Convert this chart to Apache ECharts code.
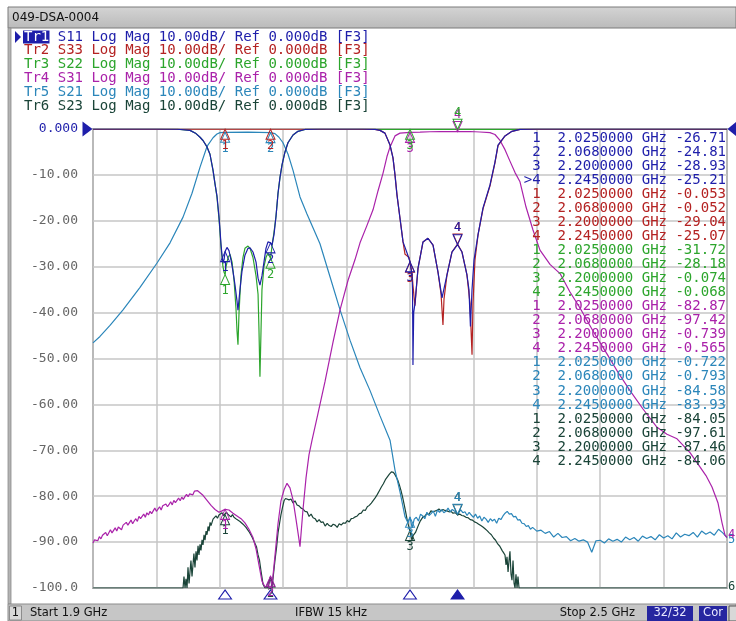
<!DOCTYPE html>
<html><head><meta charset="utf-8">
<script src="https://cdn.jsdelivr.net/npm/echarts@6/dist/echarts.min.js"></script>
<style>html,body{margin:0;padding:0;background:#fff}#c{width:736px;height:621px}</style>
</head><body><div id="c"></div><script>
// ---------- data ----------
const traceNames = ['Tr1','Tr2','Tr3','Tr4','Tr5','Tr6'];
const sParams = ['S11','S33','S22','S31','S21','S23'];
const yTickLabels = ['0.000','-10.00','-20.00','-30.00','-40.00','-50.00','-60.00','-70.00','-80.00','-90.00','-100.0'];
const freqMarkers = [2.025, 2.068, 2.2, 2.245];
const mkS11 = [-26.71, -24.81, -28.93, -25.21];
const mkS33 = [-0.053, -0.052, -29.04, -25.07];
const mkS22 = [-31.72, -28.18, -0.074, -0.068];
const mkS31 = [-82.87, -97.42, -0.739, -0.565];
const mkS21 = [-0.722, -0.793, -84.58, -83.93];
const mkS23 = [-84.05, -97.61, -87.46, -84.06];

const s11Data = [[1.900,0],[1.960,0],[1.980,-0.05],[1.9918,-0.3],[1.9975,-1.0],[2.0013,-1.8],[2.0041,-2.5],[2.0079,-3.9],[2.0107,-5.5],[2.0136,-9.0],[2.0155,-12.0],[2.0173,-14.5],[2.0192,-19.0],[2.0202,-22.0],[2.0211,-25.0],[2.0221,-27.5],[2.0230,-29.0],[2.0240,-28.5],[2.0250,-26.71],[2.0268,-25.8],[2.0287,-26.5],[2.0306,-28.5],[2.0325,-31.0],[2.0344,-34.0],[2.0363,-37.5],[2.0372,-39.5],[2.0391,-35.0],[2.0410,-31.0],[2.0438,-27.5],[2.0467,-26.0],[2.0486,-25.9],[2.0514,-26.8],[2.0543,-29.0],[2.0562,-32.5],[2.0580,-34.0],[2.0599,-32.0],[2.0618,-29.0],[2.0637,-26.0],[2.0656,-24.6],[2.0680,-24.81],[2.0694,-25.3],[2.0713,-23.0],[2.0732,-19.0],[2.0751,-14.0],[2.0770,-10.5],[2.0789,-7.8],[2.0817,-5.0],[2.0845,-3.0],[2.0893,-1.3],[2.0940,-0.5],[2.1006,-0.1],[2.1150,0],[2.1550,0],[2.1669,-0.1],[2.1716,-0.3],[2.1763,-0.9],[2.1811,-3.5],[2.1839,-6.3],[2.1858,-10.0],[2.1877,-14.4],[2.1905,-19.4],[2.1934,-24.6],[2.1972,-27.0],[2.2000,-28.93],[2.2019,-31.8],[2.2024,-35.0],[2.2028,-51.4],[2.2035,-40.0],[2.2047,-38.0],[2.2066,-33.0],[2.2076,-30.3],[2.2095,-28.0],[2.2123,-24.6],[2.2170,-23.8],[2.2218,-25.3],[2.2265,-31.2],[2.2303,-36.8],[2.2350,-31.8],[2.2397,-26.8],[2.2450,-25.21],[2.2492,-26.8],[2.2539,-31.8],[2.2558,-35.0],[2.2572,-43.0],[2.2587,-35.0],[2.2606,-28.5],[2.2644,-23.0],[2.2691,-17.2],[2.2757,-12.2],[2.2804,-7.2],[2.2833,-3.5],[2.2899,-1.5],[2.2965,-0.5],[2.3041,-0.1],[2.3200,0],[2.5000,0]];

const s33Data = [[1.900,-0.05],[2.150,-0.05],[2.1669,-0.1],[2.1716,-0.3],[2.1763,-0.9],[2.1811,-3.5],[2.1839,-6.3],[2.1858,-10.0],[2.1877,-14.4],[2.1905,-19.4],[2.1934,-24.6],[2.1953,-27.3],[2.1972,-27.6],[2.1991,-28.0],[2.2000,-29.04],[2.2019,-31.5],[2.2028,-34.0],[2.2038,-36.5],[2.2047,-38.5],[2.2066,-33.0],[2.2076,-30.3],[2.2095,-28.0],[2.2123,-24.6],[2.2170,-23.8],[2.2218,-25.3],[2.2265,-31.2],[2.2294,-36.0],[2.2312,-42.7],[2.2322,-37.0],[2.2350,-31.8],[2.2397,-26.8],[2.2450,-25.07],[2.2492,-26.8],[2.2539,-31.8],[2.2568,-38.0],[2.2587,-49.2],[2.2596,-38.0],[2.2615,-28.5],[2.2644,-23.0],[2.2691,-17.4],[2.2757,-12.4],[2.2804,-7.4],[2.2833,-3.6],[2.2899,-1.5],[2.2965,-0.5],[2.3041,-0.1],[2.3200,-0.05],[2.5000,-0.05]];

const s22Data = [[1.900,-0.05],[1.980,-0.05],[1.9918,-0.3],[1.9975,-1.0],[2.0013,-1.8],[2.0041,-2.5],[2.0079,-3.9],[2.0107,-5.5],[2.0136,-9.0],[2.0155,-12.0],[2.0173,-14.8],[2.0192,-19.5],[2.0202,-22.5],[2.0211,-25.5],[2.0221,-28.0],[2.0230,-30.0],[2.0240,-31.2],[2.0250,-31.72],[2.0259,-30.0],[2.0278,-28.0],[2.0297,-27.3],[2.0316,-29.0],[2.0335,-33.0],[2.0353,-39.0],[2.0363,-44.0],[2.0372,-47.0],[2.0382,-40.0],[2.0400,-32.0],[2.0419,-28.0],[2.0438,-26.0],[2.0467,-25.5],[2.0486,-26.0],[2.0514,-28.0],[2.0543,-32.0],[2.0562,-36.0],[2.0571,-44.0],[2.0580,-54.0],[2.0590,-44.0],[2.0599,-35.0],[2.0618,-30.0],[2.0637,-28.0],[2.0656,-27.0],[2.0680,-28.18],[2.0694,-25.5],[2.0713,-22.5],[2.0732,-19.0],[2.0751,-14.0],[2.0770,-10.5],[2.0789,-7.8],[2.0817,-5.0],[2.0845,-3.0],[2.0893,-1.3],[2.0940,-0.5],[2.1006,-0.1],[2.1200,-0.07],[2.5000,-0.07]];

const s31Data = [[1.9000,-90.2],[1.9015,-89.5],[1.9030,-89.1],[1.9045,-89.7],[1.9060,-88.8],[1.9075,-89.3],[1.9090,-88.5],[1.9105,-88.9],[1.9120,-87.9],[1.9135,-88.6],[1.9150,-88.3],[1.9165,-87.3],[1.9180,-88.0],[1.9195,-87.7],[1.9210,-86.9],[1.9225,-87.6],[1.9240,-86.7],[1.9255,-86.5],[1.9270,-87.3],[1.9285,-86.3],[1.9300,-86.6],[1.9315,-85.7],[1.9330,-86.3],[1.9345,-85.9],[1.9360,-85.2],[1.9375,-86.0],[1.9390,-85.4],[1.9405,-84.9],[1.9420,-85.5],[1.9435,-84.4],[1.9450,-84.9],[1.9465,-84.7],[1.9480,-83.9],[1.9495,-84.6],[1.9510,-83.6],[1.9525,-84.1],[1.9540,-83.3],[1.9555,-83.8],[1.9570,-83.5],[1.9585,-82.6],[1.9600,-83.3],[1.9615,-82.8],[1.9630,-82.3],[1.9645,-83.0],[1.9660,-82.1],[1.9675,-82.5],[1.9690,-81.7],[1.9705,-82.3],[1.9720,-81.8],[1.9735,-81.2],[1.9750,-81.9],[1.9765,-80.9],[1.9780,-81.4],[1.9795,-81.0],[1.9810,-80.4],[1.9825,-81.0],[1.9840,-80.2],[1.9855,-80.7],[1.9870,-80.1],[1.9885,-79.6],[1.9900,-80.1],[1.9915,-79.5],[1.9930,-79.3],[1.9945,-79.7],[1.9960,-78.9],[1.9975,-79.2],[1.9990,-78.8],[2.0005,-79.1],[2.0041,-79.8],[2.0079,-80.9],[2.0117,-82.0],[2.0155,-82.9],[2.0192,-83.5],[2.0221,-83.2],[2.0250,-82.87],[2.0287,-83.0],[2.0325,-83.7],[2.0363,-84.3],[2.0401,-84.9],[2.0438,-85.8],[2.0476,-87.2],[2.0514,-89.0],[2.0543,-91.5],[2.0571,-95.0],[2.0599,-98.5],[2.0628,-99.8],[2.0656,-99.6],[2.0680,-97.42],[2.0694,-99.5],[2.0722,-93.0],[2.0751,-86.0],[2.0779,-81.0],[2.0808,-78.6],[2.0836,-77.2],[2.0864,-78.2],[2.0893,-80.8],[2.0921,-85.0],[2.0950,-89.5],[2.0959,-91.0],[2.0987,-83.0],[2.1016,-76.0],[2.1044,-71.0],[2.1073,-67.8],[2.1129,-62.0],[2.1196,-55.0],[2.1271,-46.5],[2.1338,-39.4],[2.1413,-33.0],[2.1479,-28.5],[2.1527,-24.8],[2.1593,-21.0],[2.1650,-17.6],[2.1697,-13.5],[2.1745,-9.6],[2.1782,-6.0],[2.1811,-3.9],[2.1858,-1.5],[2.1905,-0.9],[2.2000,-0.739],[2.2095,-0.7],[2.2189,-0.6],[2.2284,-0.55],[2.2450,-0.565],[2.2568,-0.55],[2.2662,-0.65],[2.2757,-0.8],[2.2804,-1.2],[2.2852,-2.5],[2.2899,-4.5],[2.2946,-7.0],[2.2994,-9.5],[2.3041,-11.5],[2.3098,-17.0],[2.3164,-22.0],[2.3230,-26.4],[2.3325,-29.5],[2.3420,-31.5],[2.3514,-35.5],[2.3609,-39.0],[2.3732,-44.0],[2.3864,-49.0],[2.3968,-53.0],[2.4082,-57.0],[2.4205,-61.0],[2.4338,-65.0],[2.4432,-66.5],[2.4527,-67.5],[2.4650,-70.5],[2.4744,-73.6],[2.4801,-75.5],[2.4858,-78.0],[2.4915,-81.5],[2.4953,-85.8],[2.4981,-88.5],[2.5000,-89.0]];

const s21Data = [[1.900,-46.6],[1.9066,-45.2],[1.9161,-42.8],[1.9284,-39.4],[1.9445,-34.5],[1.9606,-29.2],[1.9729,-24.8],[1.9852,-19.2],[1.9937,-14.0],[2.0013,-8.3],[2.0079,-3.8],[2.0136,-1.9],[2.0173,-1.1],[2.0202,-0.8],[2.0250,-0.722],[2.0467,-0.7],[2.0680,-0.793],[2.0722,-1.0],[2.0760,-1.8],[2.0798,-3.0],[2.0846,-5.5],[2.0893,-9.0],[2.0959,-14.8],[2.1025,-18.5],[2.1082,-21.5],[2.1148,-25.0],[2.1243,-32.2],[2.1338,-39.4],[2.1432,-46.0],[2.1527,-52.0],[2.1622,-57.0],[2.1716,-62.5],[2.1811,-67.8],[2.1858,-74.3],[2.1905,-79.0],[2.1953,-84.5],[2.1981,-85.8],[2.2000,-84.58],[2.202,-86.9],[2.204,-85.0],[2.206,-84.6],[2.208,-85.4],[2.210,-83.9],[2.212,-84.3],[2.214,-84.9],[2.216,-83.5],[2.218,-84.2],[2.220,-83.8],[2.222,-83.2],[2.224,-84.4],[2.226,-83.0],[2.228,-83.5],[2.230,-82.9],[2.232,-83.6],[2.234,-83.3],[2.236,-82.6],[2.238,-83.4],[2.240,-82.9],[2.242,-83.2],[2.245,-83.93],[2.248,-83.0],[2.250,-83.6],[2.252,-83.4],[2.254,-84.2],[2.256,-83.5],[2.258,-84.1],[2.260,-84.6],[2.262,-83.9],[2.264,-84.8],[2.266,-84.3],[2.268,-85.4],[2.270,-84.6],[2.272,-85.0],[2.274,-85.7],[2.276,-84.9],[2.278,-85.4],[2.280,-85.0],[2.282,-85.9],[2.284,-84.8],[2.286,-85.1],[2.288,-84.3],[2.290,-83.7],[2.292,-83.3],[2.294,-83.9],[2.296,-83.8],[2.298,-84.5],[2.300,-84.4],[2.302,-85.2],[2.304,-85.1],[2.306,-85.9],[2.308,-86.0],[2.310,-86.6],[2.312,-86.4],[2.314,-87.2],[2.316,-86.8],[2.320,-87.6],[2.324,-87.4],[2.328,-88.1],[2.332,-87.7],[2.336,-88.9],[2.340,-88.1],[2.344,-89.0],[2.348,-88.8],[2.352,-89.7],[2.356,-89.2],[2.360,-89.8],[2.364,-89.5],[2.368,-90.0],[2.372,-92.2],[2.376,-89.7],[2.380,-89.6],[2.384,-90.2],[2.388,-89.3],[2.392,-89.8],[2.396,-89.4],[2.400,-90.0],[2.404,-88.9],[2.408,-89.5],[2.412,-89.0],[2.416,-89.8],[2.420,-88.7],[2.424,-89.2],[2.428,-88.8],[2.432,-89.5],[2.436,-88.4],[2.440,-89.1],[2.444,-88.6],[2.448,-89.3],[2.452,-88.0],[2.456,-88.9],[2.460,-88.3],[2.464,-88.6],[2.468,-87.9],[2.472,-88.9],[2.476,-87.6],[2.480,-88.3],[2.484,-87.8],[2.488,-88.5],[2.492,-87.2],[2.496,-88.0],[2.500,-89.0]];

const s23Data = [[1.900,-100],[1.9852,-100],[1.9861,-97.5],[1.9871,-100],[1.9880,-98.0],[1.9890,-100],[1.9899,-95.5],[1.9909,-99.0],[1.9918,-96.5],[1.9927,-94.0],[1.9937,-97.5],[1.9946,-95.0],[1.9955,-92.5],[1.9965,-95.5],[1.9975,-92.0],[1.9984,-94.0],[1.9994,-90.8],[2.0003,-92.8],[2.0013,-90.5],[2.0022,-91.8],[2.0032,-89.5],[2.0041,-90.6],[2.0051,-88.4],[2.0060,-89.6],[2.0070,-87.6],[2.0079,-88.4],[2.0089,-86.6],[2.0098,-87.6],[2.0108,-85.7],[2.0117,-86.4],[2.0136,-85.0],[2.0150,-85.4],[2.0164,-84.3],[2.0178,-84.8],[2.0192,-84.1],[2.0206,-84.3],[2.0221,-83.6],[2.0235,-84.2],[2.0250,-84.05],[2.0264,-83.5],[2.0278,-84.0],[2.0292,-83.8],[2.0306,-84.5],[2.0320,-84.0],[2.0334,-84.6],[2.0349,-84.5],[2.0363,-85.1],[2.0377,-84.9],[2.0391,-85.5],[2.0405,-85.4],[2.0420,-86.1],[2.0434,-86.0],[2.0448,-86.8],[2.0462,-86.9],[2.0476,-87.7],[2.0490,-88.0],[2.0505,-88.9],[2.0519,-89.2],[2.0533,-90.3],[2.0547,-91.0],[2.0562,-92.8],[2.0576,-94.0],[2.0590,-96.3],[2.0600,-97.8],[2.0609,-99.2],[2.0628,-100],[2.0656,-100],[2.0680,-97.61],[2.0694,-100],[2.0708,-97.0],[2.0722,-94.0],[2.0737,-91.2],[2.0751,-88.0],[2.0765,-86.0],[2.0779,-84.0],[2.0793,-82.5],[2.0808,-81.0],[2.0822,-80.5],[2.0836,-80.2],[2.0855,-80.8],[2.0874,-80.6],[2.0893,-81.5],[2.0912,-81.0],[2.0931,-81.9],[2.0950,-82.1],[2.0969,-82.6],[2.0988,-82.8],[2.1007,-83.3],[2.1026,-83.4],[2.1045,-84.4],[2.1064,-83.9],[2.1083,-84.7],[2.1102,-84.9],[2.1121,-85.6],[2.1140,-85.1],[2.1159,-85.7],[2.1178,-85.6],[2.1197,-86.5],[2.1216,-85.9],[2.1235,-86.4],[2.1254,-86.6],[2.1273,-86.1],[2.1292,-86.3],[2.1311,-86.8],[2.1330,-86.0],[2.1349,-86.3],[2.1368,-85.8],[2.1387,-85.9],[2.1406,-85.3],[2.1425,-85.6],[2.1444,-84.9],[2.1463,-84.8],[2.1482,-84.5],[2.1501,-84.3],[2.1520,-83.8],[2.1539,-83.7],[2.1558,-83.0],[2.1577,-83.1],[2.1596,-82.3],[2.1615,-82.0],[2.1634,-81.5],[2.1653,-80.9],[2.1672,-80.3],[2.1691,-79.6],[2.1710,-78.8],[2.1729,-78.0],[2.1748,-77.3],[2.1767,-76.4],[2.1786,-75.8],[2.1805,-75.2],[2.1824,-74.7],[2.1843,-74.8],[2.1858,-75.3],[2.1872,-75.9],[2.1886,-76.6],[2.1900,-77.6],[2.1915,-78.8],[2.1929,-80.1],[2.1943,-81.6],[2.1958,-83.3],[2.1972,-85.0],[2.1986,-86.4],[2.2000,-87.46],[2.2010,-88.8],[2.2019,-89.6],[2.2029,-88.6],[2.2038,-88.9],[2.2052,-87.9],[2.2066,-87.6],[2.2080,-86.3],[2.2095,-85.5],[2.2109,-85.3],[2.2123,-84.5],[2.2142,-84.3],[2.2160,-83.8],[2.2179,-84.0],[2.2198,-83.2],[2.2218,-83.4],[2.2236,-83.0],[2.2255,-83.1],[2.2274,-82.8],[2.2293,-83.2],[2.2312,-82.9],[2.2331,-83.1],[2.2350,-83.2],[2.2369,-83.4],[2.2388,-83.3],[2.2407,-83.7],[2.2430,-83.6],[2.2450,-84.06],[2.2470,-83.9],[2.2490,-84.2],[2.2510,-84.3],[2.2530,-84.6],[2.2550,-84.7],[2.2570,-85.1],[2.2590,-85.2],[2.2610,-85.6],[2.2630,-85.8],[2.2650,-86.1],[2.2670,-86.4],[2.2690,-86.7],[2.2710,-87.1],[2.2730,-87.5],[2.2750,-88.0],[2.2770,-88.4],[2.2790,-89.1],[2.2810,-89.6],[2.2830,-90.4],[2.2850,-90.9],[2.2871,-91.8],[2.2885,-92.3],[2.2899,-92.8],[2.2909,-95.0],[2.2918,-93.2],[2.2928,-96.5],[2.2937,-94.0],[2.2946,-92.0],[2.2956,-97.0],[2.2965,-98.3],[2.2975,-94.0],[2.2985,-99.0],[2.2994,-100],[2.3003,-97.0],[2.3013,-100],[2.3022,-97.5],[2.3032,-100],[2.5000,-100]];

// ---------- styles ----------
const traceColors = ['#1e1eaa','#b42222','#2ca52c','#aa22aa','#2b86ba','#1a4438'];
const MONO = "'DejaVu Sans Mono', monospace";
const SANS = "'DejaVu Sans', sans-serif";
const triUp = 'path://M5,0L10,10L0,10Z';
const triDown = 'path://M0,0L10,0L5,10Z';
const triRight = 'path://M0,0L10,5L0,10Z';
const triLeft = 'path://M10,0L0,5L10,10Z';

const traceData = [s11Data, s33Data, s22Data, s31Data, s21Data, s23Data];
const traceMarkers = [mkS11, mkS33, mkS22, mkS31, mkS21, mkS23];

const series = [];
traceNames.forEach((tn, k) => {
  const color = traceColors[k];
  const mp = freqMarkers.map((f, i) => ({
    coord: [f, traceMarkers[k][i]],
    symbol: i === 3 ? triDown : triUp,
    symbolSize: [9, 10],
    symbolOffset: i === 3 ? [0, -5] : [0, 5],
    itemStyle: {color: 'rgba(255,255,255,0)', borderColor: color, borderWidth: 1},
    label: {show: true, position: i === 3 ? 'top' : 'bottom', distance: 0, formatter: String(i + 1),
            color: color, fontSize: 12, fontFamily: MONO}
  }));
  if (k === 0) {
    freqMarkers.forEach((f, i) => mp.push({
      coord: [f, -100], symbol: triUp, symbolSize: [13, 9], symbolOffset: [0, 6.5],
      itemStyle: {color: i === 3 ? color : '#ffffff', borderColor: color, borderWidth: 1},
      label: {show: false}
    }));
    mp.push({coord: [1.9, 0], symbol: triRight, symbolSize: [10, 15], symbolOffset: [-5.5, 0],
             itemStyle: {color: color, borderWidth: 0}, label: {show: false}});
    mp.push({coord: [2.5, 0], symbol: triLeft, symbolSize: [9, 15], symbolOffset: [5, 0],
             itemStyle: {color: color, borderWidth: 0}, label: {show: false}});
  }
  const s = {
    type: 'line', name: tn, data: traceData[k], xAxisIndex: 0, yAxisIndex: 0,
    symbol: 'none', showSymbol: false, animation: false, z: 10 - k,
    lineStyle: {width: 1.2, color: color}, itemStyle: {color: color},
    markPoint: {data: mp, z: 20, silent: true, animation: false}
  };
  if (k >= 3) {
    s.endLabel = {show: true, formatter: String(k + 1), color: color, fontSize: 12, fontFamily: MONO,
                  distance: 1, offset: [0, k === 3 ? -3 : (k === 4 ? 2 : -1)]};
  }
  series.push(s);
});

// ---------- graphics (frame, trace list, marker table, status bar) ----------
const graphics = [];
graphics.push({type: 'rect', shape: {x: 8, y: 7, width: 728, height: 21},
  style: {fill: new echarts.graphic.LinearGradient(0, 0, 0, 1, [{offset: 0, color: '#d4d4d4'}, {offset: 1, color: '#bababa'}]),
          stroke: '#7a7a7a', lineWidth: 1}});
graphics.push({type: 'text', x: 12, y: 18, style: {text: '049-DSA-0004', fill: '#111', font: '12px ' + SANS, textVerticalAlign: 'middle'}});
graphics.push({type: 'rect', shape: {x: 8, y: 28, width: 3, height: 576}, style: {fill: '#b4b4b4', stroke: '#8c8c8c', lineWidth: 0.8}});

const PITCH = 8.43;
traceNames.forEach((tn, k) => {
  const y = 37 + k * 13.85;
  const color = traceColors[k];
  const rest = ' ' + sParams[k] + ' Log Mag 10.00dB/ Ref 0.000dB [F3]';
  if (k === 0) {
    graphics.push({type: 'polygon', shape: {points: [[15, y - 6], [21, y], [15, y + 6]]}, style: {fill: color}});
    graphics.push({type: 'rect', shape: {x: 23, y: y - 6.5, width: 26.5, height: 13}, style: {fill: color}});
    graphics.push({type: 'text', x: 24, y: y, style: {text: tn, fill: '#ffffff', font: '14px ' + MONO, textVerticalAlign: 'middle'}});
  } else {
    graphics.push({type: 'text', x: 24, y: y, style: {text: tn, fill: color, font: '14px ' + MONO, textVerticalAlign: 'middle'}});
  }
  graphics.push({type: 'text', x: 24 + 3 * PITCH, y: y, style: {text: rest, fill: color, font: '14px ' + MONO, textVerticalAlign: 'middle'}});
});

function fmtVal(v) { return Math.abs(v) >= 10 ? v.toFixed(2) : v.toFixed(3); }
let row = 0;
traceNames.forEach((tn, k) => {
  freqMarkers.forEach((f, i) => {
    const prefix = (k === 0 && i === 3) ? '>' : ' ';
    const txt = prefix + (i + 1) + '  ' + f.toFixed(7) + ' GHz ' + fmtVal(traceMarkers[k][i]);
    graphics.push({type: 'text', x: 726, y: 138 + row * 14.05, z: 100,
      style: {text: txt, fill: traceColors[k], font: '14px ' + MONO, textAlign: 'right', textVerticalAlign: 'middle'}});
    row++;
  });
});

// status bar
graphics.push({type: 'rect', shape: {x: 8, y: 604, width: 728, height: 17}, style: {fill: '#c6c6c6', stroke: '#8c8c8c', lineWidth: 1}});
graphics.push({type: 'rect', shape: {x: 9.5, y: 606, width: 12, height: 14}, style: {fill: '#d8d8d8', stroke: '#7c7c7c', lineWidth: 0.8}});
graphics.push({type: 'text', x: 15.5, y: 613.5, style: {text: '1', fill: '#111', font: '11.5px ' + SANS, textAlign: 'center', textVerticalAlign: 'middle'}});
graphics.push({type: 'text', x: 30, y: 613.5, style: {text: 'Start 1.9 GHz', fill: '#111', font: '11.5px ' + SANS, textVerticalAlign: 'middle'}});
graphics.push({type: 'text', x: 295, y: 613.5, style: {text: 'IFBW 15 kHz', fill: '#111', font: '11.5px ' + SANS, textVerticalAlign: 'middle'}});
graphics.push({type: 'text', x: 635, y: 613.5, style: {text: 'Stop 2.5 GHz', fill: '#111', font: '11.5px ' + SANS, textAlign: 'right', textVerticalAlign: 'middle'}});
graphics.push({type: 'rect', shape: {x: 647, y: 606, width: 46, height: 15}, style: {fill: '#2626a0'}});
graphics.push({type: 'text', x: 670, y: 613.5, style: {text: '32/32', fill: '#e8e8ff', font: '11.5px ' + SANS, textAlign: 'center', textVerticalAlign: 'middle'}});
graphics.push({type: 'rect', shape: {x: 699, y: 606, width: 28, height: 15}, style: {fill: '#2626a0'}});
graphics.push({type: 'text', x: 713, y: 613.5, style: {text: 'Cor', fill: '#e8e8ff', font: '11.5px ' + SANS, textAlign: 'center', textVerticalAlign: 'middle'}});
graphics.push({type: 'rect', shape: {x: 729, y: 606, width: 8, height: 15}, style: {fill: '#d8d8d8', stroke: '#555', lineWidth: 1}});

const chart = echarts.init(document.getElementById('c'), null, {renderer: 'canvas'});
chart.setOption({
  animation: false,
  backgroundColor: '#ffffff',
  grid: {left: 93, top: 129, width: 634, height: 459, show: true, borderColor: '#707070', borderWidth: 1.5, backgroundColor: 'rgba(0,0,0,0)'},
  xAxis: [
    {type: 'value', min: 1.9, max: 2.5, axisLabel: {show: false}, axisTick: {show: false}, axisLine: {show: false}, splitLine: {show: false}},
    {type: 'value', min: 0, max: 10, interval: 1, position: 'top', axisLabel: {show: false}, axisTick: {show: false}, axisLine: {show: false},
     splitLine: {show: true, lineStyle: {color: '#c6c6c6', width: 1.5}}}
  ],
  yAxis: {type: 'value', min: -100, max: 0, interval: 10, axisLine: {show: false}, axisTick: {show: false},
    splitLine: {show: true, lineStyle: {color: '#c6c6c6', width: 1.5}},
    axisLabel: {margin: 15, fontFamily: MONO, fontSize: 13,
      formatter: v => yTickLabels[Math.round(-v / 10)],
      color: (v) => (Number(v) === 0 ? traceColors[0] : '#666666')}},
  series: series.slice().reverse(),
  graphic: {elements: graphics}
});
</script></body></html>
